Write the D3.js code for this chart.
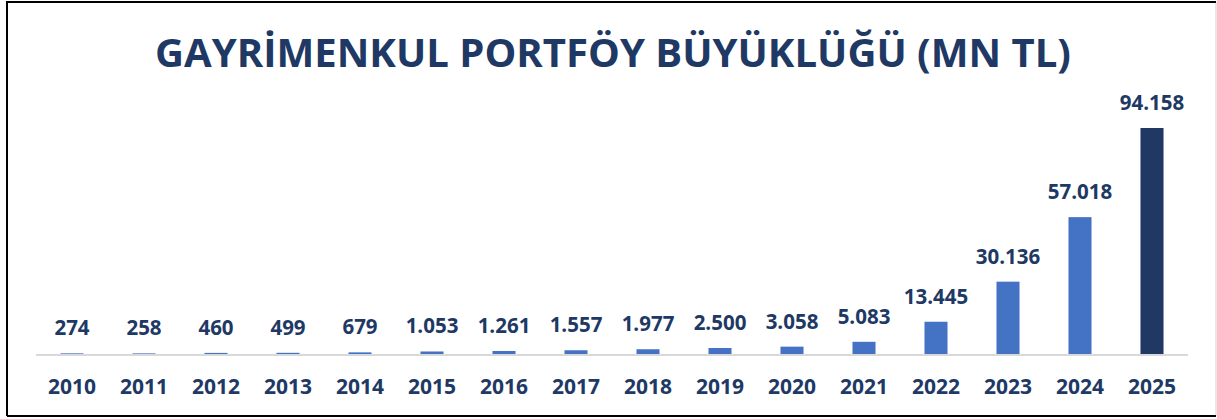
<!DOCTYPE html>
<html>
<head>
<meta charset="utf-8">
<script src="https://cdn.jsdelivr.net/npm/d3@7"></script>
<style>
  body { margin: 0; background: #fff; }
  svg { display: block; }
</style>
</head>
<body>
<svg id="chart"></svg>
<script>
// chart data
const years = ["2010", "2011", "2012", "2013", "2014", "2015", "2016", "2017",
  "2018", "2019", "2020", "2021", "2022", "2023", "2024", "2025"];
const values = [274, 258, 460, 499, 679, 1053, 1261, 1557, 1977, 2500, 3058,
  5083, 13445, 30136, 57018, 94158];
const labels = ["274", "258", "460", "499", "679", "1.053", "1.261", "1.557",
  "1.977", "2.500", "3.058", "5.083", "13.445", "30.136", "57.018", "94.158"];
const title = "GAYRİMENKUL PORTFÖY BÜYÜKLÜĞÜ (MN TL)";

const width = 1217, height = 419;
const margin = { top: 128, right: 29, bottom: 65, left: 36 };
const textColor = "#203864";
const font = "'Open Sans', sans-serif";

const svg = d3.select("#chart")
  .attr("width", width)
  .attr("height", height);

// frame
svg.append("rect")
  .attr("x", 0).attr("y", 0)
  .attr("width", width).attr("height", height)
  .attr("fill", "#fff");
svg.append("line")
  .attr("x1", 1216).attr("x2", 1216).attr("y1", 2).attr("y2", 416)
  .attr("stroke", "#d0d0d0").attr("stroke-width", 1);
svg.append("path")
  .attr("d", `M7,416 L7,2 L1216,2 M7,416 L1216,416`)
  .attr("fill", "none")
  .attr("stroke", "#000")
  .attr("stroke-width", 2);

const x = d3.scaleBand()
  .domain(years)
  .range([margin.left, width - margin.right])
  .paddingInner(0.68)
  .paddingOuter(0.34);

const y = d3.scaleLinear()
  .domain([0, d3.max(values)])
  .range([height - margin.bottom, margin.top]);

// title
svg.append("text")
  .attr("x", 613)
  .attr("y", 67)
  .attr("text-anchor", "middle")
  .attr("font-family", font)
  .attr("font-weight", 700)
  .attr("font-size", 40.1)
  .attr("fill", textColor)
  .text(title);

// bars
svg.append("g")
  .selectAll("rect")
  .data(values)
  .join("rect")
  .attr("x", (d, i) => x(years[i]))
  .attr("y", d => y(d))
  .attr("width", x.bandwidth())
  .attr("height", d => y(0) - y(d))
  .attr("fill", (d, i) => i === values.length - 1 ? "#203864" : "#4472c4");

// baseline
svg.append("line")
  .attr("x1", margin.left)
  .attr("x2", width - margin.right)
  .attr("y1", y(0) + 1)
  .attr("y2", y(0) + 1)
  .attr("stroke", "#d9d9d9")
  .attr("stroke-width", 2);

// value labels
svg.append("g")
  .selectAll("text")
  .data(values)
  .join("text")
  .attr("x", (d, i) => x(years[i]) + x.bandwidth() / 2)
  .attr("y", d => y(d) - 18)
  .attr("text-anchor", "middle")
  .attr("font-family", font)
  .attr("font-weight", 700)
  .attr("font-size", 20.5)
  .attr("fill", textColor)
  .text((d, i) => labels[i]);

// x axis
const xAxis = svg.append("g")
  .attr("transform", `translate(0,${y(0)})`)
  .call(d3.axisBottom(x).tickSize(0).tickPadding(25));
xAxis.select(".domain").remove();
xAxis.selectAll("text")
  .attr("font-family", font)
  .attr("font-weight", 700)
  .attr("font-size", 21)
  .attr("fill", textColor);
</script>
</body>
</html>
